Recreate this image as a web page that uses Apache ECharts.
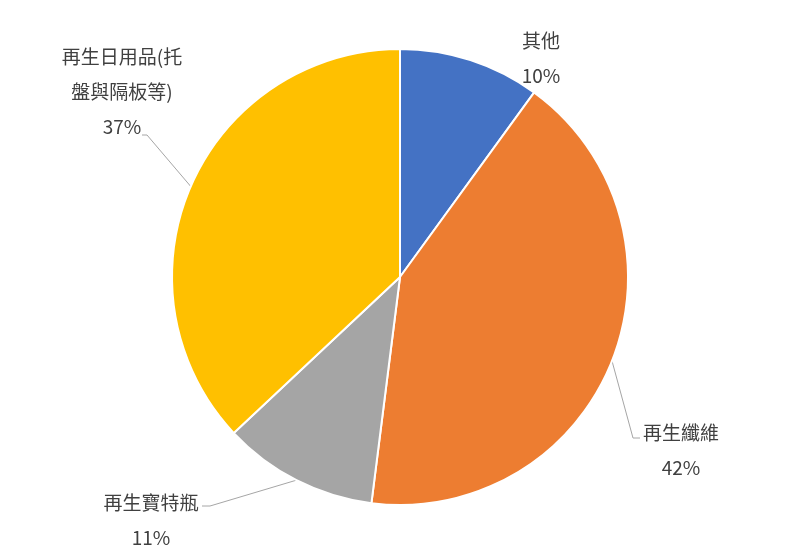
<!DOCTYPE html>
<html>
<head>
<meta charset="utf-8">
<script src="https://cdn.jsdelivr.net/npm/echarts@6/dist/echarts.min.js"></script>
<style>
  html, body { margin: 0; padding: 0; background: #fff; }
  #chart { width: 800px; height: 555px; }
</style>
</head>
<body>
<div id="chart"></div>
<script>
// slice names (clockwise from the top) and their shares
const names = ['其他', '再生纖維', '再生寶特瓶', '再生日用品(托\n盤與隔板等)']
const values = [10, 42, 11, 37]
const colors = ['#4472C4', '#ED7D31', '#A5A5A5', '#FFC000']

// where each label block sits (centre of the text block)
const labelPos = [
  [541, 58],
  [681, 450],
  [151, 520],
  [122, 92]
]
// leader line end + elbow, relative to the label centre (null = no line)
const leaderEnd = [
  null,
  [[-48, -12], [-41, -12]],
  [[59, -14], [51, -14]],
  [[25, 43], [20, 43]]
]

const chart = echarts.init(document.getElementById('chart'))

chart.setOption({
  animation: false,
  backgroundColor: '#fff',
  series: [{
    type: 'pie',
    center: [400, 277],
    radius: 228,
    startAngle: 90,
    clockwise: true,
    data: names.map((name, i) => ({
      name,
      value: values[i],
      itemStyle: { color: colors[i] },
      labelLine: { show: i !== 0 }
    })),
    itemStyle: { borderColor: '#fff', borderWidth: 2 },
    label: {
      show: true,
      position: 'outside',
      formatter: '{b}\n{d}%',
      fontFamily: '"Noto Sans CJK TC", "Noto Sans", sans-serif',
      fontSize: 19,
      lineHeight: 35,
      color: '#404040',
      align: 'center'
    },
    labelLine: {
      show: true,
      lineStyle: { color: '#A6A6A6', width: 1 }
    },
    labelLayout: params => {
      const i = params.dataIndex
      const p = labelPos[i]
      const out = { x: p[0], y: p[1], align: 'center', verticalAlign: 'middle' }
      const le = leaderEnd[i]
      if (le && params.labelLinePoints) {
        const start = params.labelLinePoints[0]
        out.labelLinePoints = [
          start,
          [p[0] + le[0][0], p[1] + le[0][1]],
          [p[0] + le[1][0], p[1] + le[1][1]]
        ]
      }
      return out
    }
  }]
})
</script>
</body>
</html>
